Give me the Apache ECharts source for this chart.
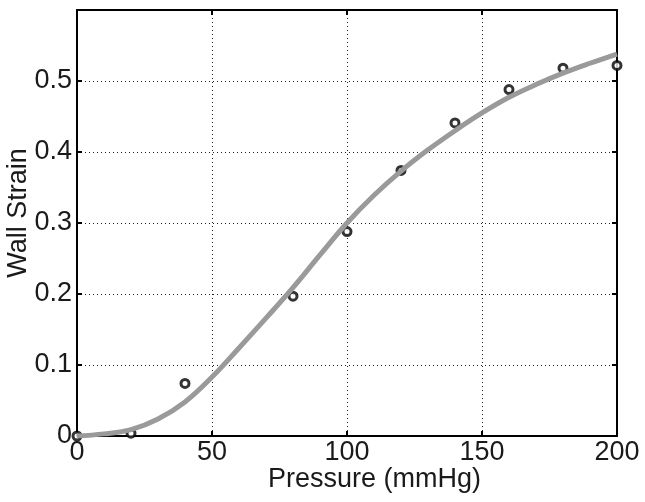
<!DOCTYPE html>
<html>
<head>
<meta charset="utf-8">
<title>Wall Strain vs Pressure</title>
<script src="https://cdn.jsdelivr.net/npm/echarts@6/dist/echarts.min.js"></script>
<style>
    html, body { margin: 0; padding: 0; background: #fff; }
    #chart { width: 645px; height: 502px; }
</style>
</head>
<body>
<div id="chart"></div>
<script>
    // measured points (open circles)
    var pressures = [0, 20, 40, 80, 100, 120, 140, 160, 180, 200];
    var strains = [0, 0.004, 0.074, 0.197, 0.288, 0.374, 0.441, 0.488, 0.518, 0.522];

    // fitted curve, every 10 mmHg
    var curvePressures = [0, 10, 20, 30, 40, 50, 60, 70, 80, 90, 100,
        110, 120, 130, 140, 150, 160, 170, 180, 190, 200];
    var curveStrains = [0, 0.003, 0.009, 0.024, 0.048, 0.083, 0.124, 0.166, 0.209, 0.255, 0.300,
        0.339, 0.373, 0.403, 0.430, 0.455, 0.477, 0.495, 0.511, 0.525, 0.538];

    // axis ticks
    var xTicks = [0, 50, 100, 150, 200];
    var yTicks = [0, 0.1, 0.2, 0.3, 0.4, 0.5, 0.6];

    var font = "'Liberation Sans', Arial, Helvetica, sans-serif";
    var textColor = '#1a1a1a';
    var fontSize = 27;

    function pairs(xs, ys) {
        return xs.map(function (x, i) { return [x, ys[i]]; });
    }

    var myChart = echarts.init(document.getElementById('chart'));

    // box axes (top / right) only carry ticks
    var boxAxisX = {
        type: 'value', position: 'top',
        min: xTicks[0], max: xTicks[xTicks.length - 1], interval: 50,
        axisLine: {show: true, onZero: false, lineStyle: {color: '#000', width: 2}},
        axisTick: {show: true, inside: true, length: 5, lineStyle: {color: '#000', width: 2}},
        axisLabel: {show: false},
        splitLine: {show: false}
    };
    var boxAxisY = {
        type: 'value', position: 'right',
        min: yTicks[0], max: yTicks[yTicks.length - 1], interval: 0.1,
        axisLine: {show: true, onZero: false, lineStyle: {color: '#000', width: 2}},
        axisTick: {show: true, inside: true, length: 5, lineStyle: {color: '#000', width: 2}},
        axisLabel: {show: false},
        splitLine: {show: false}
    };

    myChart.setOption({
        animation: false,
        backgroundColor: '#fff',
        grid: {
            left: 77,
            right: 28,
            top: 10,
            bottom: 66,
            containLabel: false,
            outerBoundsMode: 'none'
        },
        xAxis: [{
            type: 'value',
            name: 'Pressure (mmHg)',
            nameLocation: 'middle',
            nameGap: 30,
            nameMoveOverlap: false,
            nameTextStyle: {fontFamily: font, fontSize: fontSize, color: textColor, padding: [0, 0, 0, 55]},
            min: xTicks[0],
            max: xTicks[xTicks.length - 1],
            interval: 50,
            axisLine: {show: true, onZero: false, lineStyle: {color: '#000', width: 2}},
            axisTick: {show: true, inside: true, length: 5, lineStyle: {color: '#000', width: 2}},
            axisLabel: {fontFamily: font, fontSize: fontSize, color: textColor, margin: 3},
            splitLine: {show: true, lineStyle: {color: '#222', width: 1, type: [1, 3]}}
        }, boxAxisX],
        yAxis: [{
            type: 'value',
            name: 'Wall Strain',
            nameLocation: 'middle',
            nameGap: 45,
            nameMoveOverlap: false,
            nameTextStyle: {fontFamily: font, fontSize: fontSize, color: textColor, padding: [0, 0, 0, 20]},
            min: yTicks[0],
            max: yTicks[yTicks.length - 1],
            interval: 0.1,
            axisLine: {show: true, onZero: false, lineStyle: {color: '#000', width: 2}},
            axisTick: {show: true, inside: true, length: 5, lineStyle: {color: '#000', width: 2}},
            axisLabel: {
                fontFamily: font, fontSize: fontSize, color: textColor, margin: 5,
                formatter: function (v) {
                    // no label at the top edge
                    return Math.abs(v - 0.6) < 1e-9 ? '' : String(Math.round(v * 10) / 10);
                }
            },
            splitLine: {show: true, lineStyle: {color: '#222', width: 1, type: [1, 3]}}
        }, boxAxisY],
        series: [{
            name: 'measured',
            type: 'scatter',
            data: pairs(pressures, strains),
            symbol: 'circle',
            symbolSize: 8,
            clip: false,
            z: 3,
            itemStyle: {color: '#fff', borderColor: '#000', borderWidth: 3}
        }, {
            name: 'fit',
            type: 'line',
            data: pairs(curvePressures, curveStrains),
            smooth: 0.4,
            showSymbol: false,
            symbol: 'none',
            z: 4,
            lineStyle: {color: '#9a9a9a', width: 5}
        }]
    });
</script>
</body>
</html>
